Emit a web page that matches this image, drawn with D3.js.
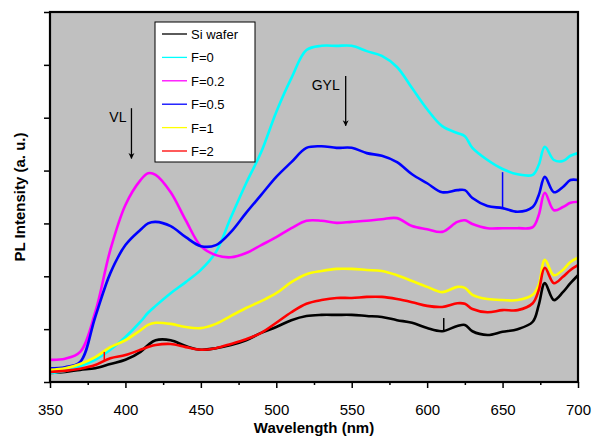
<!DOCTYPE html>
<html>
<head>
<meta charset="utf-8">
<title>PL spectra</title>
<script src="https://cdn.jsdelivr.net/npm/d3@7"></script>
<style>
  body { margin: 0; background: #fff; }
  svg text { font-family: Arial, "Liberation Sans", sans-serif; }
</style>
</head>
<body>
<svg width="592" height="438"></svg>
<script>
// wavelength grid (nm) shared by all spectra
const wavelengths = [350,360,370,380,390,400,410,415,420,430,440,450,460,470,480,490,500,510,520,530,540,550,560,570,580,590,600,610,620,625,630,640,650,660,670,674,678,684,690,695,700];

// PL intensity (a.u.)
const siWafer = [0.17,0.19,0.23,0.26,0.34,0.42,0.57,0.70,0.79,0.79,0.68,0.61,0.64,0.70,0.79,0.93,1.04,1.17,1.25,1.27,1.27,1.27,1.25,1.23,1.17,1.12,1.02,0.96,1.06,1.08,0.96,0.89,0.95,1.00,1.14,1.46,1.87,1.55,1.70,1.87,2.02];
const f0 = [0.17,0.21,0.30,0.42,0.61,0.85,1.14,1.31,1.44,1.68,1.89,2.12,2.46,3.12,3.76,4.35,5.11,5.75,6.28,6.36,6.36,6.36,6.26,6.17,5.96,5.56,5.16,4.84,4.71,4.65,4.43,4.20,4.03,3.93,3.92,4.11,4.45,4.20,4.18,4.28,4.33];
const f02 = [0.42,0.44,0.57,1.32,2.50,3.35,3.82,3.95,3.92,3.59,3.06,2.57,2.40,2.36,2.44,2.59,2.74,2.91,3.05,3.05,3.01,3.03,3.05,3.08,3.10,2.95,2.89,2.84,3.03,3.06,2.99,2.91,2.91,2.91,2.93,3.16,3.58,3.25,3.31,3.39,3.41];
const f05 = [0.26,0.28,0.38,1.23,2.06,2.59,2.88,3.00,3.03,2.95,2.74,2.57,2.59,2.84,3.20,3.54,3.88,4.16,4.43,4.46,4.43,4.43,4.33,4.28,4.16,3.93,3.76,3.59,3.63,3.63,3.48,3.33,3.29,3.22,3.31,3.54,3.88,3.59,3.69,3.82,3.82];
const f1 = [0.23,0.26,0.34,0.47,0.66,0.79,0.98,1.08,1.12,1.10,1.04,1.02,1.10,1.25,1.40,1.53,1.68,1.89,2.04,2.10,2.14,2.14,2.12,2.10,2.02,1.91,1.80,1.70,1.80,1.78,1.65,1.57,1.55,1.55,1.65,1.84,2.31,2.02,2.12,2.27,2.35];
const f2 = [0.19,0.21,0.25,0.32,0.45,0.51,0.61,0.66,0.70,0.72,0.66,0.61,0.64,0.72,0.81,0.93,1.12,1.32,1.48,1.55,1.59,1.59,1.61,1.61,1.57,1.51,1.44,1.42,1.49,1.48,1.38,1.32,1.36,1.36,1.49,1.74,2.16,1.87,1.99,2.12,2.21];

const seriesNames = ["Si wafer", "F=0", "F=0.2", "F=0.5", "F=1", "F=2"];
const seriesValues = [siWafer, f0, f02, f05, f1, f2];
const seriesColors = ["#000000", "#00ffff", "#ff00ff", "#0000ff", "#ffff00", "#ff0000"];

// single-channel spikes: [series index, wavelength, base, top]
const spikes = [[3, 650, 3.29, 3.97], [0, 611, 0.96, 1.21], [5, 386, 0.40, 0.57]];

const xTicks = [350,400,450,500,550,600,650,700];
const xMinorTicks = [375,425,475,525,575,625,675];
const yTicks = [0,1,2,3,4,5,6,7];

const margin = {left: 50, right: 14, top: 12, bottom: 56};
const W = 592, H = 438;
const svg = d3.select("svg");

const x = d3.scaleLinear().domain([350, 700]).range([margin.left, W - margin.right]);
const y = d3.scaleLinear().domain([0, 7]).range([H - margin.bottom, margin.top]);

// plot background
svg.append("rect")
    .attr("x", x(350)).attr("y", y(7))
    .attr("width", x(700) - x(350)).attr("height", y(0) - y(7))
    .attr("fill", "#c0c0c0");

// spectra
const line = d3.line()
    .x(d => x(d[0]))
    .y(d => y(d[1]))
    .curve(d3.curveCatmullRom.alpha(0.5));

const plot = svg.append("g");
seriesValues.forEach((vals, i) => {
    const pts = wavelengths.map((w, j) => [w, vals[j]]);
    plot.append("path")
        .attr("d", line(pts))
        .attr("fill", "none")
        .attr("stroke", seriesColors[i])
        .attr("stroke-width", 2.6)
        .attr("stroke-linejoin", "round");
});
spikes.forEach(s => {
    plot.append("line")
        .attr("x1", x(s[1])).attr("x2", x(s[1]))
        .attr("y1", y(s[2])).attr("y2", y(s[3]))
        .attr("stroke", seriesColors[s[0]])
        .attr("stroke-width", 1.5);
});

// axes
const xAxis = svg.append("g")
    .attr("transform", "translate(0," + y(0) + ")")
    .call(d3.axisBottom(x).tickValues(xTicks).tickSize(6).tickPadding(16).tickFormat(d3.format("d")));
xAxis.select(".domain").remove();
xAxis.selectAll("line").attr("stroke-width", 1.5);
xAxis.selectAll("text").attr("font-size", 15).attr("fill", "#000")
    .style("font-family", "Arial, 'Liberation Sans', sans-serif");

const xMinor = svg.append("g")
    .attr("transform", "translate(0," + y(0) + ")")
    .call(d3.axisBottom(x).tickValues(xMinorTicks).tickSize(3).tickFormat(""));
xMinor.select(".domain").remove();
xMinor.selectAll("line").attr("stroke-width", 1.5);

const yAxis = svg.append("g")
    .attr("transform", "translate(" + x(350) + ",0)")
    .call(d3.axisLeft(y).tickValues(yTicks).tickSize(6).tickFormat(""));
yAxis.select(".domain").remove();
yAxis.selectAll("line").attr("stroke-width", 1.5);

// frame
svg.append("rect")
    .attr("x", x(350)).attr("y", y(7))
    .attr("width", x(700) - x(350)).attr("height", y(0) - y(7))
    .attr("fill", "none").attr("stroke", "#000").attr("stroke-width", 2.2);

// axis titles
svg.append("text")
    .attr("x", (x(350) + x(700)) / 2).attr("y", 433)
    .attr("text-anchor", "middle")
    .attr("font-size", 15).attr("font-weight", "bold")
    .text("Wavelength (nm)");
svg.append("text")
    .attr("transform", "translate(25," + (y(0) + y(7)) / 2 + ") rotate(-90)")
    .attr("text-anchor", "middle")
    .attr("font-size", 15).attr("font-weight", "bold")
    .text("PL Intensity (a. u.)");

// annotations
const annotations = [
    {label: "VL", wl: 404, top: 5.18, bottom: 4.23, dx: -5},
    {label: "GYL", wl: 546, top: 5.79, bottom: 4.85, dx: -6}
];
svg.append("defs").append("marker")
    .attr("id", "arrow").attr("viewBox", "0 0 10 10")
    .attr("refX", 9).attr("refY", 5)
    .attr("markerWidth", 6).attr("markerHeight", 8)
    .attr("markerUnits", "userSpaceOnUse")
    .attr("orient", "auto")
    .append("path").attr("d", "M0,0 L10,5 L0,10 L3,5 Z").attr("fill", "#000");
annotations.forEach(a => {
    svg.append("line")
        .attr("x1", x(a.wl)).attr("x2", x(a.wl))
        .attr("y1", y(a.top)).attr("y2", y(a.bottom))
        .attr("stroke", "#000").attr("stroke-width", 1.3)
        .attr("marker-end", "url(#arrow)");
    svg.append("text")
        .attr("x", x(a.wl) + a.dx).attr("y", y(a.top) + 14)
        .attr("text-anchor", "end")
        .attr("font-size", 14)
        .text(a.label);
});

// legend
const legend = svg.append("g").attr("transform", "translate(155,22)");
legend.append("rect")
    .attr("width", 100).attr("height", 140)
    .attr("fill", "#fff").attr("stroke", "#000").attr("stroke-width", 1);
seriesNames.forEach((name, i) => {
    const row = legend.append("g").attr("transform", "translate(0," + (12 + i * 23.4) + ")");
    row.append("line")
        .attr("x1", 7).attr("x2", 32)
        .attr("stroke", seriesColors[i]).attr("stroke-width", 1.3);
    row.append("text")
        .attr("x", 36).attr("y", 5)
        .attr("font-size", 13)
        .text(name);
});
</script>
</body>
</html>
